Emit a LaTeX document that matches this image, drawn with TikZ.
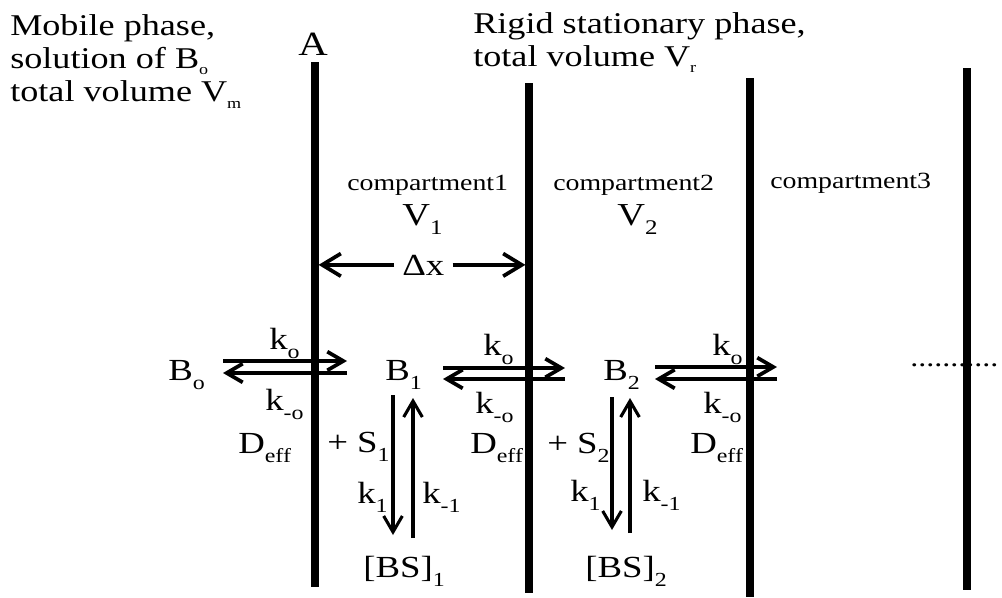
\documentclass[tikz,border=0pt]{standalone}
\usepackage{fontspec}
\setmainfont{Liberation Serif}[FakeStretch=1.2]
\usetikzlibrary{arrows.meta, positioning}

\makeatletter
\newdimen\sbsdim
\newcommand{\sbs}[3][.65]{{\sbsdim=\f@size pt\relax\sbsdim=#1\sbsdim
  \raisebox{-#2}{\fontsize{\strip@pt\sbsdim}{\strip@pt\sbsdim}\selectfont #3}}}
\makeatother

\tikzset{
  membrane/.style={line width=5.4pt},
  bigtxt/.style={font=\fontsize{22.6}{24.8}\selectfont, align=left, inner sep=0pt},
  comptxt/.style={font=\fontsize{17.4}{20}\selectfont, inner sep=0pt, anchor=base west},
  voltxt/.style={font=\fontsize{24}{28}\selectfont, inner sep=0pt, anchor=base west},
  spectxt/.style={font=\fontsize{23}{27}\selectfont, inner sep=0pt, anchor=base west},
  rxarrow/.style={line width=2.8pt, -{Straight Barb[length=12pt, width=14pt]}},
  vxarrow/.style={line width=2.3pt, -{Straight Barb[length=12pt, width=14pt]}},
  dxarrow/.style={line width=2.8pt, -{Straight Barb[length=14pt, width=17pt]}},
}

\begin{document}
\begin{tikzpicture}[x=0.75pt, y=-0.75pt]
  \useasboundingbox (0,0) rectangle (1002,597);

  \coordinate (w1t) at (315,62);  \coordinate (w1b) at (315,587);
  \coordinate (w2t) at (529,83);  \coordinate (w2b) at (529,593);
  \coordinate (w3t) at (750,78);  \coordinate (w3b) at (750,597);
  \coordinate (w4t) at (967,68);  \coordinate (w4b) at (967,590);
  \draw[membrane] (w1t) -- (w1b);
  \draw[membrane] (w2t) -- (w2b);
  \draw[membrane] (w3t) -- (w3b);
  \draw[membrane] (w4t) -- (w4b);

  \node[bigtxt, anchor=north west] (mobile) at (10,14.5)
    {Mobile phase,\\solution of B\sbs[.5]{.2em}{o}\\total volume V\sbs[.5]{.22em}{m}};
  \node[bigtxt, anchor=north west] (rigid) at (473,12)
    {Rigid stationary phase,\\total volume V\sbs[.5]{.22em}{r}};
  \node[spectxt, font=\fontsize{25.5}{30}\selectfont, anchor=base] (lblA) at (313,55) {A};

  \node[comptxt] (comp1) at (347,190) {compartment1};
  \node[comptxt] (comp2) at (553,190) {compartment2};
  \node[comptxt] (comp3) at (770,188) {compartment3};
  \node[voltxt] (vol1) at (402,225) {V\sbs{.3em}{1}};
  \node[voltxt] (vol2) at (617,225) {V\sbs{.3em}{2}};

  \node[spectxt] (dx) at (402,275) {Δx};
  \draw[dxarrow, shorten <=6pt, shorten >=2.7pt] (dx.west) -- (dx.west -| w1t);
  \draw[dxarrow, shorten <=6pt, shorten >=2.7pt] (dx.east) -- (dx.east -| w2t);

  \node[spectxt] (Bo) at (168,380) {B\sbs{.3em}{o}};
  \node[spectxt] (B1) at (385,380) {B\sbs{.3em}{1}};
  \node[spectxt] (B2) at (603,380) {B\sbs{.3em}{2}};
  \node[spectxt] (BS1) at (363,577) {[BS]\sbs{.3em}{1}};
  \node[spectxt] (BS2) at (585,577) {[BS]\sbs{.3em}{2}};

  \node[spectxt] (kf1) at (269,349) {k\sbs{.3em}{o}};
  \node[spectxt] (kb1) at (265,410) {k\sbs{.3em}{-o}};
  \node[spectxt] (D1) at (238,453) {D\sbs{.3em}{eff}};
  \node[spectxt] (kf2) at (483,355) {k\sbs{.3em}{o}};
  \node[spectxt] (kb2) at (475,413) {k\sbs{.3em}{-o}};
  \node[spectxt] (D2) at (470,453) {D\sbs{.3em}{eff}};
  \node[spectxt] (kf3) at (712,355) {k\sbs{.3em}{o}};
  \node[spectxt] (kb3) at (703,413) {k\sbs{.3em}{-o}};
  \node[spectxt] (D3) at (690,453) {D\sbs{.3em}{eff}};

  \node[spectxt] (S1) at (327,452) {+ S\sbs{.3em}{1}};
  \node[spectxt] (S2) at (547,453) {+ S\sbs{.3em}{2}};
  \node[spectxt] (kon1) at (357,503) {k\sbs{.3em}{1}};
  \node[spectxt] (koff1) at (422,503) {k\sbs{.3em}{-1}};
  \node[spectxt] (kon2) at (570,501) {k\sbs{.3em}{1}};
  \node[spectxt] (koff2) at (642,501) {k\sbs{.3em}{-1}};

  \node[spectxt, font=\fontsize{20}{22}\selectfont] (dots) at (910,366) {...........};

  \coordinate (p1l) at (223,361); \coordinate (p1r) at (347,361);
  \coordinate (q1l) at (223,373); \coordinate (q1r) at (347,373);
  \coordinate (p2l) at (443,368); \coordinate (p2r) at (565,368);
  \coordinate (q2l) at (443,379); \coordinate (q2r) at (565,379);
  \coordinate (p3l) at (655,367); \coordinate (p3r) at (777,367);
  \coordinate (q3l) at (655,379); \coordinate (q3r) at (777,379);
  \draw[rxarrow] (p1l) -- (p1r);
  \draw[rxarrow] (q1r) -- (q1l);
  \draw[rxarrow] (p2l) -- (p2r);
  \draw[rxarrow] (q2r) -- (q2l);
  \draw[rxarrow] (p3l) -- (p3r);
  \draw[rxarrow] (q3r) -- (q3l);

  \coordinate (d1t) at (393,395); \coordinate (d1b) at (393,535);
  \coordinate (u1b) at (413,538); \coordinate (u1t) at (413,398);
  \coordinate (d2t) at (612,397); \coordinate (d2b) at (612,530);
  \coordinate (u2b) at (630,533); \coordinate (u2t) at (630,398);
  \draw[vxarrow] (d1t) -- (d1b);
  \draw[vxarrow] (u1b) -- (u1t);
  \draw[vxarrow] (d2t) -- (d2b);
  \draw[vxarrow] (u2b) -- (u2t);
\end{tikzpicture}
\end{document}
